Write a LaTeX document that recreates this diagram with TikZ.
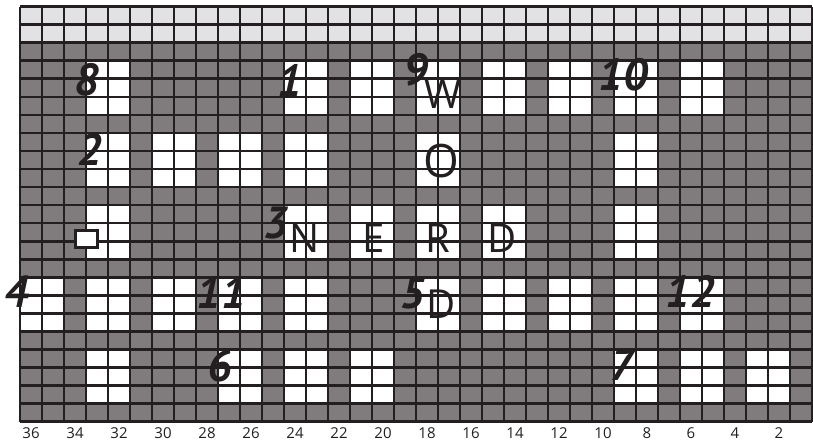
\documentclass[tikz,border=0pt]{standalone}
\usepackage{fontspec}
\setmainfont{PT Sans}
\newfontfamily\letfont{Open Sans}
\definecolor{darkg}{RGB}{128,124,125}
\definecolor{lightg}{RGB}{226,225,227}
\definecolor{gline}{RGB}{35,31,32}
\begin{document}
\begin{tikzpicture}[x=1pt,y=-1pt,
  num/.style={font=\bfseries\itshape\fontsize{45}{45}\selectfont, text=gline, inner sep=0pt},
  lett/.style={font=\letfont\fontsize{40}{40}\selectfont, text=gline, inner sep=0pt},
  axl/.style={font=\letfont\fontsize{15}{15}\selectfont, text=gline, inner sep=0pt},
  gridl/.style={draw=gline, line width=2.6pt}]
\useasboundingbox (0,0) rectangle (813,443);
\pgfmathsetmacro\gy{6.6}
\pgfmathsetmacro\rh{18.05}
\pgfmathsetmacro\gb{\gy+23*\rh}
% background cells
\fill[darkg] (20,\gy) rectangle (812,\gb);
\fill[lightg] (20,\gy) rectangle (812,{\gy+2*\rh});
% white blocks: band / list of column pairs
\foreach \b/\ks in {0/{1,4,5,6,7,8,9,10},1/{1,2,3,4,6,9},2/{1,4,5,6,7,9},3/{0,1,2,3,4,6,7,8,9,10},4/{1,3,4,5,9,10,11}}{
  \foreach \k in \ks {
    \fill[white] ({20+66*\k},{\gy+(3+4*\b)*\rh}) rectangle ({20+66*\k+44},{\gy+(6+4*\b)*\rh});
  }
}
% grid lines
\foreach \i in {0,...,36} \draw[gridl] ({20+22*\i},\gy) -- ({20+22*\i},\gb);
\foreach \j in {0,...,23} \draw[gridl] (20,{\gy+\j*\rh}) -- (812,{\gy+\j*\rh});
% small square
\node[draw=gline, fill=white, line width=2.2pt, minimum width=22pt, minimum height=17pt, inner sep=0pt] (sq) at (86.5,239) {};
% numbers
\node[num] (n8) at (87,80) {8};
\node[num] (n1) at (290,80) {1};
\node[num] (n9) at (416,70) {9};
\node[num] (n10) at (623,75) {10};
\node[num] (n2) at (90,149) {2};
\node[num] (n3) at (276,223) {3};
\node[num] (n5) at (413,293) {5};
\node[num] (n4) at (17,292) {4};
\node[num] (n11) at (221,292) {11};
\node[num] (n12) at (690,291) {12};
\node[num] (n6) at (220,366) {6};
\node[num] (n7) at (622,365) {7};
% letters
\node[lett] (lW) at (443,94) {W};
\node[lett, font=\letfont\fontsize{46}{46}\selectfont] (lO) at (441,161) {O};
\node[lett] (lN) at (305,238) {N};
\node[lett] (lE) at (374,238) {E};
\node[lett] (lR) at (438,238) {R};
\node[lett] (lD) at (502,238) {D};
\node[lett] (lD2) at (441,304) {D};
% axis labels
\foreach \n [count=\i from 0] in {36,34,...,2} \node[axl] (ax\n) at ({31+44*\i},433) {\n};
\end{tikzpicture}
\end{document}
